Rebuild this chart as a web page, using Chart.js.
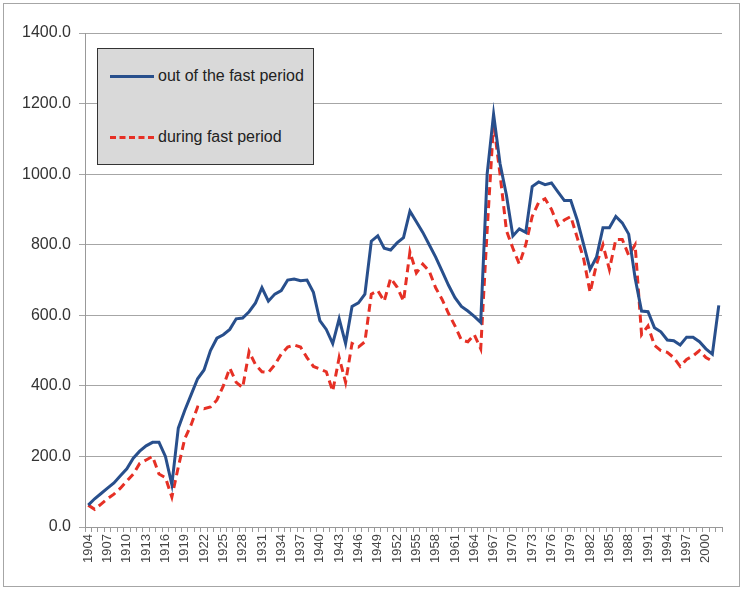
<!DOCTYPE html>
<html>
<head>
<meta charset="utf-8">
<script src="https://cdn.jsdelivr.net/npm/chart.js@4.4.1/dist/chart.umd.min.js"></script>
<style>
  body { margin: 0; background: #fff; }
  #wrap { position: relative; width: 743px; height: 593px; overflow: hidden; }
  #frame { position: absolute; left: 3px; top: 3px; right: 3px; bottom: 6px; border: 1px solid #a6a6a6; pointer-events: none; }
  #legend {
    position: absolute; left: 97px; top: 48px; width: 217px; height: 117px;
    background: #d9d9d9; border: 1px solid #333; box-sizing: border-box;
    font-family: "Liberation Sans Narrow", "Liberation Sans", Arial, sans-serif; font-size: 16px; color: #222;
  }
  .row { position: absolute; left: 12px; display: flex; align-items: center; }
  .solid { width: 44px; border-top: 3px solid #284f8c; margin-right: 4px; }
  .dash { width: 44px; border-top: 3px dashed #e63025; margin-right: 4px; }
</style>
</head>
<body>
<div id="wrap">
  <canvas id="myChart" width="743" height="593"></canvas>
  <div id="legend">
    <div class="row" style="top:18px"><span class="solid"></span>out of the fast period</div>
    <div class="row" style="top:79px"><span class="dash"></span>during fast period</div>
  </div>
  <div id="frame"></div>
</div>
<script>
const years = [];
for (let y = 1904; y <= 2002; y++) years.push(String(y));

// out of the fast period
const outOfFast = [
  62, 80, 95, 110, 125, 145, 165, 195, 215, 230,
  240, 240, 200, 120, 280, 330, 375, 420, 445, 500,
  535, 545, 560, 590, 592, 610, 635, 678, 640, 660,
  670, 700, 703, 698, 700, 665, 585, 560, 520, 590,
  520, 625, 635, 660, 810, 825, 790, 785, 805, 820,
  895, 865, 835, 800, 765, 725, 685, 650, 625, 612,
  597, 580, 1000, 1170, 1030, 940, 825, 845, 835, 965,
  978, 970, 975, 950, 925, 925, 870, 800, 730, 765,
  848, 848, 880, 862, 830, 705, 612, 610, 565, 553,
  530, 528, 516, 538, 538, 525, 505, 490, 628
];

// during fast period
const duringFast = [
  62, 50, 65, 80, 93, 110, 130, 150, 180, 190,
  200, 150, 140, 85, 170, 250, 290, 340, 335, 340,
  360, 400, 450, 410, 395, 497, 460, 440, 438, 460,
  490, 510, 516, 510, 480, 455, 448, 440, 385, 480,
  410, 520, 510, 525, 660, 670, 640, 705, 680, 640,
  780, 720, 745, 725, 678, 645, 605, 570, 530, 525,
  545, 505, 840, 1145, 1000, 840, 790, 745, 800, 880,
  920, 930, 900, 855, 870, 880, 820, 760, 665, 745,
  800, 730, 815, 815, 770, 800, 545, 570, 515, 500,
  495, 480, 455, 475, 485, 500, 480, 470, null
];

const yTicks = [0, 200, 400, 600, 800, 1000, 1200, 1400];

const font = "'Liberation Sans Narrow', 'Liberation Sans', Arial, sans-serif";

new Chart("myChart", {
  type: "line",
  data: {
    labels: years,
    datasets: [
      {
        label: "out of the fast period",
        data: outOfFast,
        borderColor: "#284f8c",
        borderWidth: 3,
        pointRadius: 0,
        tension: 0,
      },
      {
        label: "during fast period",
        data: duringFast,
        borderColor: "#e63025",
        borderWidth: 3,
        borderDash: [8, 5],
        pointRadius: 0,
        tension: 0,
      },
    ],
  },
  options: {
    responsive: false,
    animation: false,
    layout: { padding: { top: 33, right: 21, left: 0, bottom: 0 } },
    plugins: { legend: { display: false }, tooltip: { enabled: false } },
    scales: {
      x: {
        offset: true,
        grid: { offset: true, drawOnChartArea: false, tickLength: 5, color: "#999" },
        border: { color: "#999" },
        ticks: {
          autoSkip: false,
          maxRotation: 90,
          minRotation: 90,
          padding: 2,
          color: "#444",
          font: { family: font, size: 13 },
          callback: function (v, i) {
            return i % 3 === 0 ? years[i] : "";
          },
        },
        afterFit: function (s) { s.height = 66; },
      },
      y: {
        min: 0,
        max: 1400,
        afterBuildTicks: function (s) { s.ticks = yTicks.map((v) => ({ value: v })); },
        grid: { color: "#a6a6a6", tickLength: 6 },
        border: { color: "#999" },
        ticks: {
          color: "#333",
          padding: 8,
          font: { family: font, size: 16 },
          callback: (v) => Number(v).toFixed(1),
        },
        afterFit: function (s) { s.width = 85; },
      },
    },
  },
});
</script>
</body>
</html>
